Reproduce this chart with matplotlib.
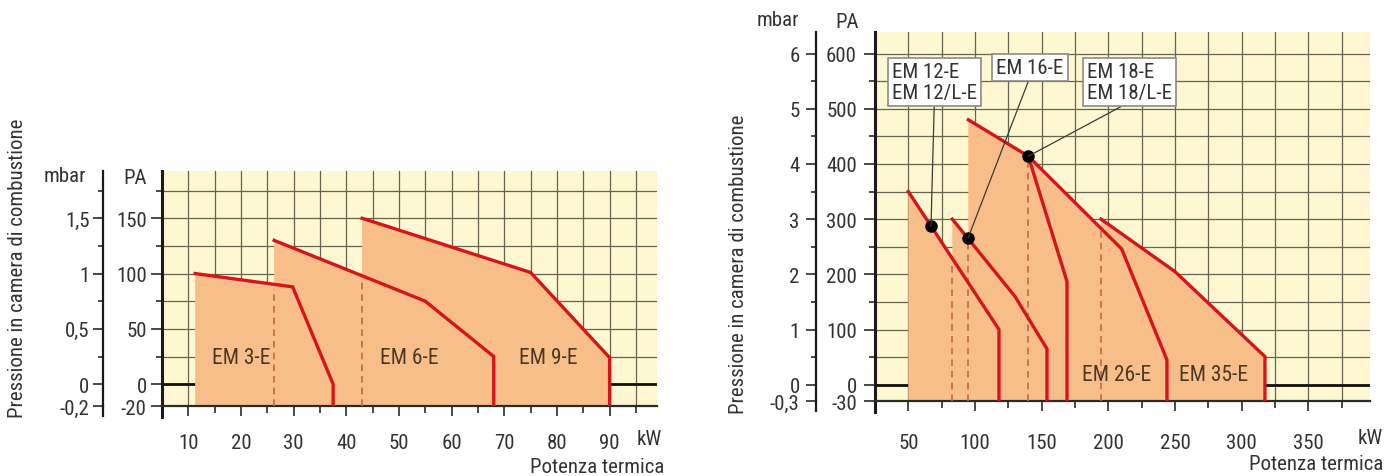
import numpy as np
import matplotlib
matplotlib.use("Agg")
import matplotlib.pyplot as plt
from matplotlib.ticker import FixedLocator

plt.rcParams['font.family'] = ['Roboto Condensed', 'Liberation Sans Narrow',
                               'DejaVu Sans Condensed', 'Liberation Sans', 'DejaVu Sans']
plt.rcParams['font.stretch'] = 'condensed'
plt.rcParams['axes.unicode_minus'] = False

# --- dati: grafico sinistro (EM 3-E / 6-E / 9-E) ---
em3_kw = [11.3, 29.8, 37.5, 37.5]
em3_pa = [100, 88, 0, -20]
em6_kw = [26.3, 55, 68, 68]
em6_pa = [130, 75, 25, -20]
em9_kw = [43, 75, 90, 90]
em9_pa = [150, 101, 24, -20]
left_names = ["EM 3-E", "EM 6-E", "EM 9-E"]
left_name_pos = [(20, 24), (52, 24), (78.3, 24)]

# --- dati: grafico destro (EM 12-E ... EM 35-E) ---
em12_kw = [50, 118, 118]
em12_pa = [350, 100, -30]
em16_kw = [83, 130, 154, 154]
em16_pa = [300, 160, 65, -30]
em18_kw = [95, 140, 169, 169]
em18_pa = [480, 414, 187, -30]
em26_kw = [140, 210, 244, 244]
em26_pa = [414, 246, 45, -30]
em35_kw = [194.5, 250, 317.5, 317.5]
em35_pa = [300, 205, 51, -30]
right_names = ["EM 26-E", "EM 35-E"]
right_name_pos = [(206, 19), (279, 19)]

# riquadri con i punti di lavoro
box_texts = ["EM 12-E\nEM 12/L-E", "EM 16-E", "EM 18-E\nEM 18/L-E"]
box_pos = [(69.5, 548), (141.3, 575), (216, 548)]
dot_kw = [67, 94.7, 140]
dot_curve = [0, 1, 2]             # indice della curva (EM 12, EM 16, EM 18)

# assi
left_xmaj = [10, 20, 30, 40, 50, 60, 70, 80, 90]
left_xmin = [5, 15, 25, 35, 45, 55, 65, 75, 85, 95]
left_ymaj = [-20, 0, 50, 100, 150]
left_ymin = [25, 75, 125, 175]
left_mbar = [-0.2, 0, 0.5, 1, 1.5]
left_mbar_lab = ["-0,2", "0", "0,5", "1", "1,5"]
left_mbar_min = [0.25, 0.75, 1.25, 1.75]

right_xmaj = [50, 100, 150, 200, 250, 300, 350]
right_xmin = [25, 75, 125, 175, 225, 275, 325, 375]
right_ymaj = [-30, 0, 100, 200, 300, 400, 500, 600]
right_ymin = [50, 150, 250, 350, 450, 550]
right_mbar = [-0.3, 0, 1, 2, 3, 4, 5, 6]
right_mbar_lab = ["-0,3", "0", "1", "2", "3", "4", "5", "6"]
right_mbar_min = [0.5, 1.5, 2.5, 3.5, 4.5, 5.5]

YELLOW = '#FFF7D1'
PEACH = '#F8BE89'
RED = '#D5141B'
DASH = '#C26A45'
GRID = '#66644c'
TXT = '#333333'
BROWN = '#4a3a22'
FS = 15

W, H = 1399, 477
fig = plt.figure(figsize=(W / 100, H / 100), dpi=100)
ax1 = fig.add_axes([162 / W, 1 - 407.3 / H, 495 / W, 235.6 / H])
ax2 = fig.add_axes([875 / W, 1 - 402.3 / H, 495 / W, 369.3 / H])


def setup(ax, xlim, ylim, xmaj, xmin, ymaj, ymin, mbar, mbar_lab, mbar_min, xpad, ypad):
    ax.set_xlim(xlim)
    ax.set_ylim(ylim)
    ax.set_facecolor(YELLOW)
    ax.set_axisbelow(True)
    ax.xaxis.set_major_locator(FixedLocator(xmaj))
    ax.xaxis.set_minor_locator(FixedLocator(xmin))
    ax.yaxis.set_major_locator(FixedLocator(ymaj))
    ax.yaxis.set_minor_locator(FixedLocator(ymin))
    ax.grid(True, which='both', color=GRID, lw=0.9)
    for s in ['top', 'right']:
        ax.spines[s].set_visible(False)
    ax.spines['left'].set_linewidth(2.2)
    ax.spines['left'].set_color('#1a1a1a')
    ax.spines['bottom'].set_linewidth(1.6)
    ax.spines['bottom'].set_color('#2a2a2a')
    ax.tick_params(axis='x', which='major', length=7, width=1.2, pad=xpad,
                   labelsize=FS, labelcolor=TXT, color='#2a2a2a')
    ax.tick_params(axis='x', which='minor', length=5, width=1.2, color='#2a2a2a')
    ax.tick_params(axis='y', which='major', length=8, width=1.2, pad=ypad,
                   labelsize=FS, labelcolor=TXT, color='#2a2a2a')
    ax.tick_params(axis='y', which='minor', length=4, width=1.2, color='#2a2a2a')
    ax.axhline(0, color='#111111', lw=2.0, zorder=1.5)
    hpx = ax.get_position().height * H
    # prolungamento asse PA sotto la base
    ax.plot([0, 0], [-11 / hpx, 0], transform=ax.transAxes,
            color='#1a1a1a', lw=2.2, clip_on=False)

    sec = ax.secondary_yaxis(-0.12, functions=(lambda p: p / 100, lambda m: m * 100))
    sec.set_yticks(mbar, labels=mbar_lab)
    sec.yaxis.set_minor_locator(FixedLocator(mbar_min))
    sec.tick_params(which='major', length=7, width=1.2, pad=ypad - 0.5,
                    labelsize=FS, labelcolor=TXT, color='#2a2a2a')
    sec.tick_params(which='minor', length=3.5, width=1.2, color='#2a2a2a')
    sec.spines['left'].set_linewidth(1.6)
    sec.spines['left'].set_color('#1a1a1a')
    ax.plot([-0.12, -0.12], [-10 / hpx, 0], transform=ax.transAxes,
            color='#1a1a1a', lw=1.6, clip_on=False)


def draw_curves(ax, curves, ybase):
    for kw, pa in curves:
        ax.fill(list(kw) + [kw[0]], list(pa) + [ybase], color=PEACH, lw=0, zorder=2)
    # bordo sinistro tratteggiato dove e' coperto dall'area precedente
    for i in range(1, len(curves)):
        x0 = curves[i][0][0]
        tops = [np.interp(x0, kw, pa) for kw, pa in curves[:i] if kw[0] <= x0 <= kw[-1]]
        if tops:
            ax.plot([x0, x0], [ybase, max(tops) - 4], color=DASH, lw=1.2,
                    dashes=(4, 3), zorder=3)
    for kw, pa in curves:
        ax.plot(kw, pa, color=RED, lw=2.4, zorder=4, solid_joinstyle='miter')


setup(ax1, (5, 99), (-20, 193), left_xmaj, left_xmin, left_ymaj, left_ymin,
      left_mbar, left_mbar_lab, left_mbar_min, xpad=12, ypad=3)
setup(ax2, (25, 396.3), (-30, 639), right_xmaj, right_xmin, right_ymaj, right_ymin,
      right_mbar, right_mbar_lab, right_mbar_min, xpad=16, ypad=5)

left_curves = [(em3_kw, em3_pa), (em6_kw, em6_pa), (em9_kw, em9_pa)]
right_curves = [(em12_kw, em12_pa), (em16_kw, em16_pa), (em18_kw, em18_pa),
                (em26_kw, em26_pa), (em35_kw, em35_pa)]
draw_curves(ax1, left_curves, -20)
draw_curves(ax2, right_curves, -30)

for name, (x, y) in zip(left_names, left_name_pos):
    ax1.text(x, y, name, fontsize=FS + 0.5, color=BROWN, ha='center', va='center', zorder=5)
for name, (x, y) in zip(right_names, right_name_pos):
    ax2.text(x, y, name, fontsize=FS + 0.5, color=BROWN, ha='center', va='center', zorder=5)

# punti di lavoro con riquadri
for txt, (bx, by), dx, ci in zip(box_texts, box_pos, dot_kw, dot_curve):
    kw, pa = right_curves[ci]
    dy = np.interp(dx, kw, pa)
    ax2.plot(dx, dy, 'o', color='black', markersize=8, zorder=6)
    ax2.annotate(txt, xy=(dx, dy), xytext=(bx, by), ha='center', va='center',
                 multialignment='left', fontsize=FS, color=TXT, linespacing=1.1, zorder=7,
                 bbox=dict(boxstyle='square,pad=0.2', fc='white', ec='#8a8a8a', lw=1.2),
                 arrowprops=dict(arrowstyle='-', color='#3a3a3a', lw=0.9,
                                 shrinkA=0, shrinkB=0, relpos=(0.5, 0)))

# testi fuori dagli assi
ax1.annotate('kW', xy=(0.984, 0), xycoords='axes fraction', xytext=(0, -32.7),
             textcoords='offset pixels', ha='center', va='center', fontsize=FS, color=TXT)
ax2.annotate('kW', xy=(1.001, 0), xycoords='axes fraction', xytext=(0, -36.7),
             textcoords='offset pixels', ha='center', va='center', fontsize=FS, color=TXT)


def ftext(x, y, s, **kw):
    fig.text(x / W, 1 - y / H, s, fontsize=FS, color=TXT, **kw)


ftext(664, 468, 'Potenza termica', ha='right', va='center')
ftext(1383, 465, 'Potenza termica', ha='right', va='center')
ftext(65, 177, 'mbar', ha='center', va='center')
ftext(135, 179, 'PA', ha='center', va='center')
ftext(778, 21, 'mbar', ha='center', va='center')
ftext(847, 22, 'PA', ha='center', va='center')
ftext(18, 268, 'Pressione in camera di combustione', ha='center', va='center', rotation=90)
ftext(738, 264, 'Pressione in camera di combustione', ha='center', va='center', rotation=90)

fig.savefig('out.png', dpi=100)
